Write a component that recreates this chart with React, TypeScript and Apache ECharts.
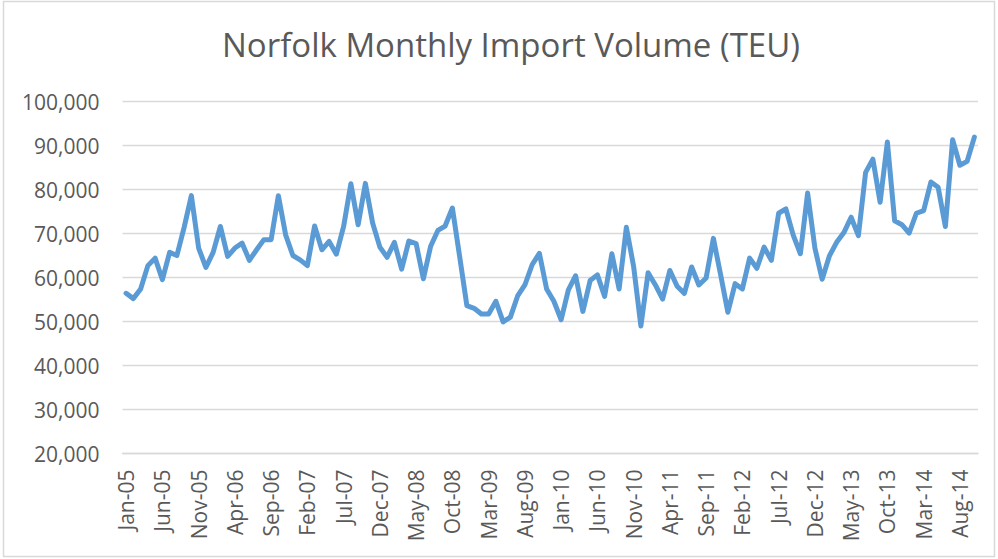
import React, { useEffect, useRef } from "react";
import * as echarts from "echarts";

const MONTHS = ["Jan", "Feb", "Mar", "Apr", "May", "Jun", "Jul", "Aug", "Sep", "Oct", "Nov", "Dec"];
const categories: string[] = [];
for (let y = 5; y <= 14; y++) {
  for (let m = 0; m < 12; m++) {
    if (y === 14 && m > 9) break;
    categories.push(`${MONTHS[m]}-${String(y).padStart(2, "0")}`);
  }
}

const importVolume = [
  56400, 55200, 57400, 62700, 64400, 59500, 65700, 65000, 71400, 78600,
  66700, 62300, 65700, 71600, 64800, 66700, 67800, 63900, 66300, 68600,
  68600, 78600, 69700, 65000, 64000, 62700, 71700, 66300, 68200, 65300,
  71600, 81300, 72000, 81400, 72400, 66900, 64600, 68000, 61900, 68300,
  67700, 59700, 67100, 70700, 71700, 75800, 64800, 53600, 53000, 51700,
  51700, 54600, 49900, 51000, 55800, 58300, 62900, 65500, 57400, 54600,
  50400, 57200, 60400, 52300, 59300, 60600, 55700, 65400, 57400, 71400,
  62500, 49000, 61100, 58300, 55100, 61600, 58000, 56400, 62400, 58300,
  59900, 68900, 60600, 52100, 58600, 57400, 64400, 62100, 66900, 63900,
  74600, 75600, 69700, 65400, 79200, 66700, 59600, 64900, 68000, 70200,
  73700, 69500, 83900, 86900, 77100, 90800, 72900, 72000, 70100, 74600,
  75200, 81700, 80500, 71600, 91300, 85500, 86400, 91900,
];

const TITLE = "Norfolk Monthly Import Volume (TEU)";
const Y_MIN = 20000;
const Y_MAX = 100000;
const Y_STEP = 10000;

export default function App() {
  const ref = useRef<HTMLDivElement>(null);
  useEffect(() => {
    if (!ref.current) return;
    const chart = echarts.init(ref.current, null, { renderer: "svg" });
    const font = "'Open Sans', 'DejaVu Sans', sans-serif";
    chart.setOption({
      animation: false,
      backgroundColor: "#ffffff",
      title: {
        text: TITLE,
        left: 217,
        top: 23,
        textStyle: { fontFamily: font, fontSize: 33, fontWeight: "normal", color: "#595959" },
      },
      graphic: [
        {
          type: "rect",
          shape: { x: 3.5, y: 1.5, width: 991, height: 555 },
          style: { fill: "none", stroke: "#d9d9d9", lineWidth: 1.5 },
          silent: true,
        },
      ],
      grid: { left: 122.5, right: 20, top: 101.5, bottom: 105.5, containLabel: false },
      xAxis: {
        type: "category",
        data: categories,
        boundaryGap: true,
        axisLine: { show: true, lineStyle: { color: "#d9d9d9", width: 1.3 } },
        axisTick: { show: false },
        axisLabel: {
          interval: 4,
          rotate: 90,
          margin: 16,
          fontFamily: font,
          fontSize: 21,
          color: "#595959",
        },
      },
      yAxis: {
        type: "value",
        min: Y_MIN,
        max: Y_MAX,
        interval: Y_STEP,
        axisLine: { show: false },
        axisTick: { show: false },
        splitLine: { lineStyle: { color: "#d9d9d9", width: 1.3 } },
        axisLabel: {
          margin: 23,
          fontFamily: font,
          fontSize: 21,
          color: "#595959",
          formatter: (v: number) => v.toLocaleString("en-US"),
        },
      },
      series: [
        {
          type: "line",
          data: importVolume,
          symbol: "none",
          lineStyle: { color: "#5B9BD5", width: 5, cap: "round", join: "round" },
        },
      ],
    });
    return () => chart.dispose();
  }, []);
  return (
    <div
      ref={ref}
      style={{ position: "fixed", left: 0, top: 0, width: 998, height: 559 }}
    />
  );
}
